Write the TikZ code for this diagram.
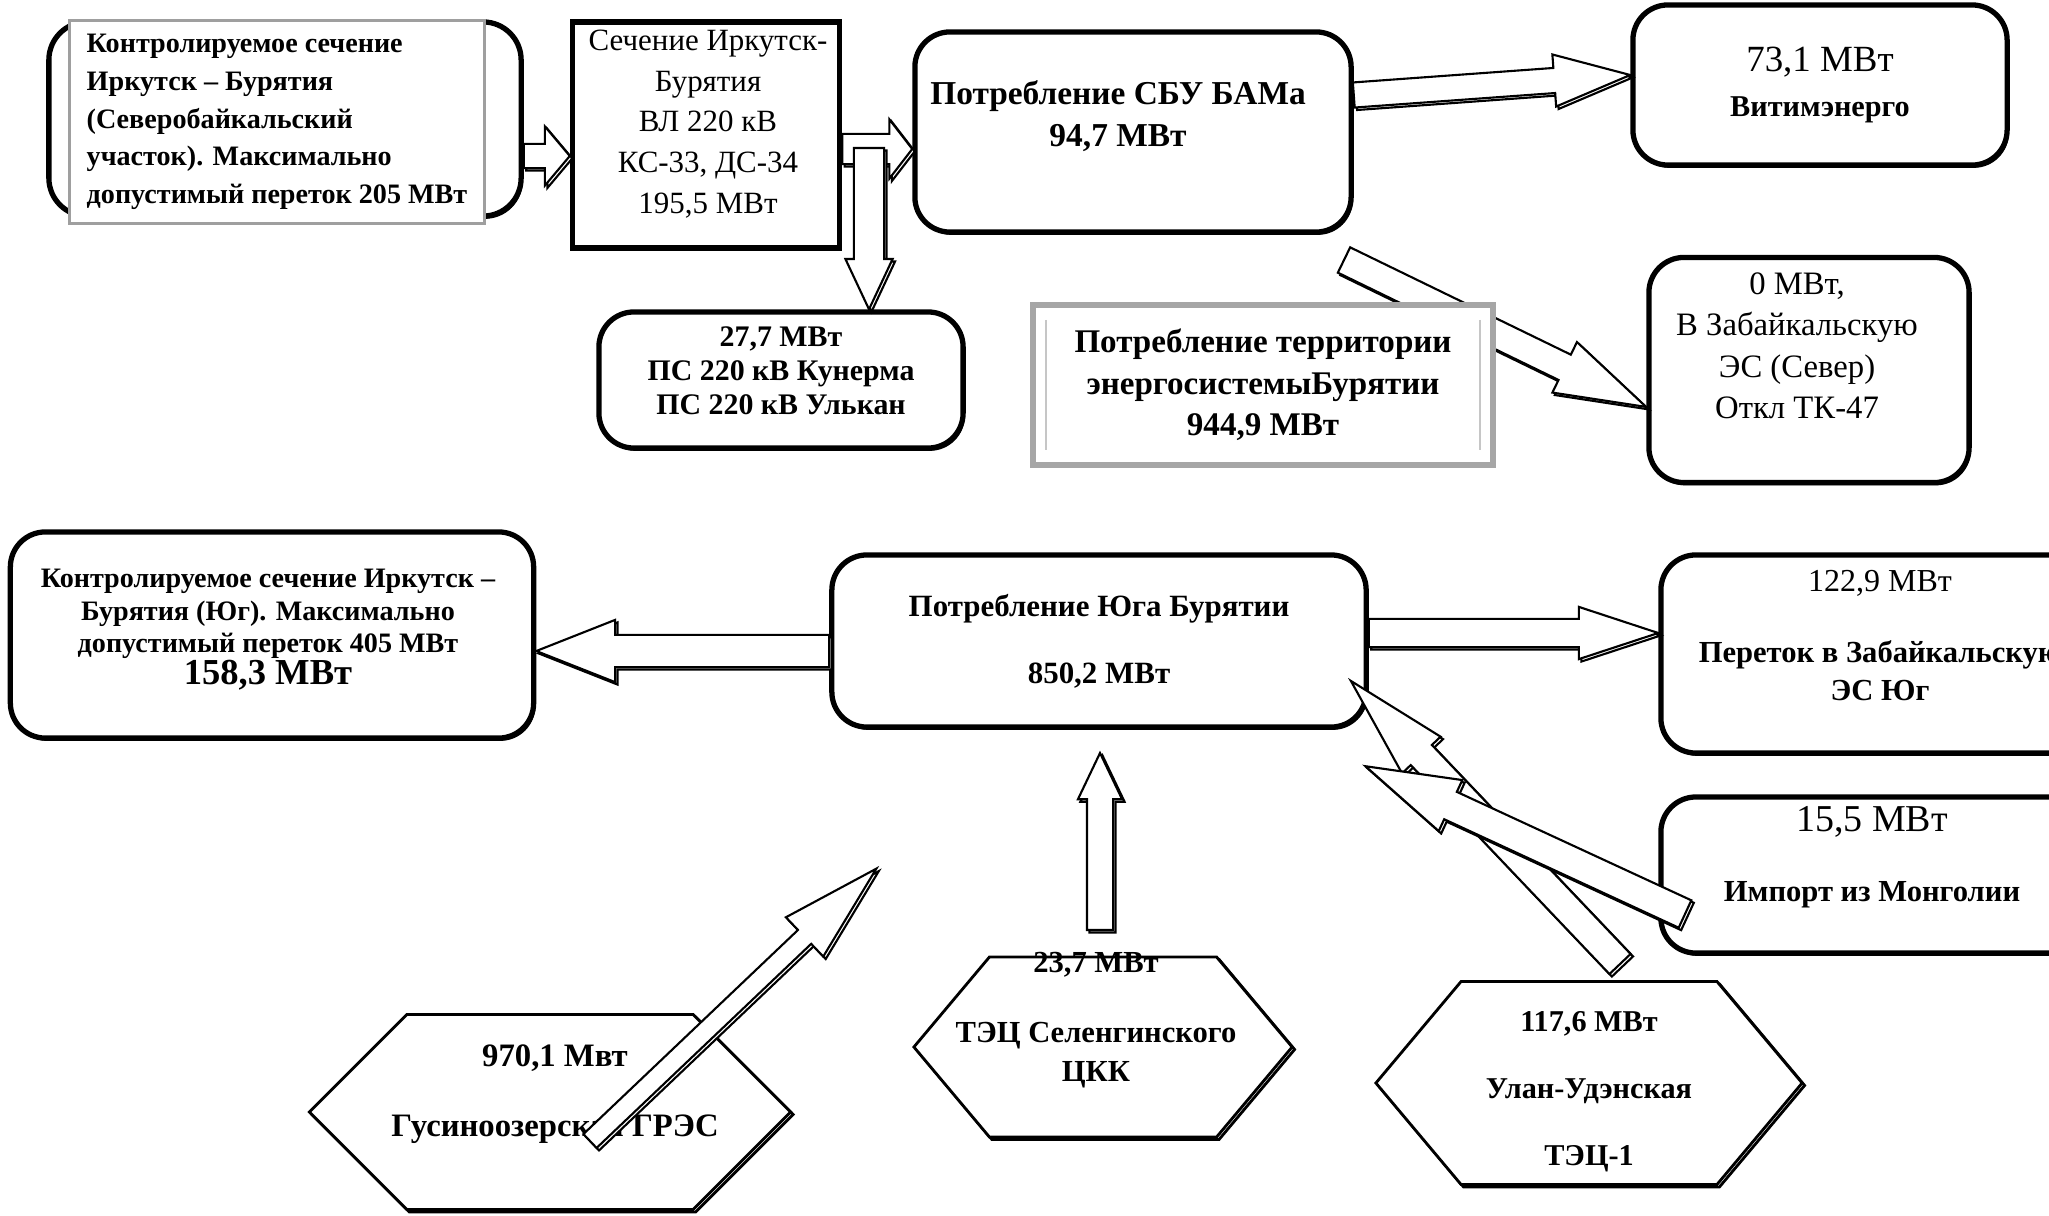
\documentclass[tikz,border=0pt]{standalone}
\usepackage{fontspec}
\setmainfont{Liberation Serif}
\usetikzlibrary{shapes.arrows, shapes.symbols, shadows, calc}
\tikzstyle{roundbox} = [rectangle, rounded corners=0.35cm, draw=black, line width=1.5pt, fill=white, align=center, drop shadow={shadow xshift=0.5pt, shadow yshift=-0.8pt, fill=black, opacity=1}]
\tikzstyle{plainbox} = [rectangle, draw=black, line width=1.5pt, fill=white, align=center, drop shadow={shadow xshift=0.5pt, shadow yshift=-0.8pt, fill=black, opacity=1}]
\tikzstyle{graybox} = [rectangle, draw=gray!75, line width=0.9pt, fill=white]
\tikzstyle{hexbox} = [signal, signal to=east and west, draw=black, line width=0.8pt, fill=white, align=center, copy shadow={shadow xshift=0.7pt, shadow yshift=-0.7pt, draw=black, fill=white}]
\tikzstyle{boldtext} = [align=center, font=\fontsize{8.7pt}{11pt}\selectfont\bfseries]
\tikzstyle{normtext} = [align=center, font=\fontsize{9.3pt}{11.4pt}\selectfont]
\newcommand\ppbb{path picture bounding box}
\tikzset{
	flowarrow/.style = {single arrow, draw=black, line width=0.6pt, fill=white,
		inner xsep=0pt, outer sep=0pt,
		copy shadow={shadow xshift=0.7pt, shadow yshift=-0.7pt, draw=black, fill=white},
	},
	framebox/.style = {rectangle, draw=gray!70, line width=1.6pt, fill=white,
		path picture={\draw [gray!45, line width=0.5pt]
			([xshift=0.13cm, yshift=-0.15cm] \ppbb.north west) -- ([xshift=0.13cm, yshift=0.15cm] \ppbb.south west)
			([xshift=-0.13cm, yshift=-0.15cm] \ppbb.north east) -- ([xshift=-0.13cm, yshift=0.15cm] \ppbb.south east);
		},% end of path picture
	}
}
% block arrow: from, to, shaft width, head width, head length (in px)
\newcommand\bigflow[5]{%
	\path let \p1=(#1), \p2=(#2), \n1={atan2(\y2-\y1,\x2-\x1)}, \n2={veclen(\x2-\x1,\y2-\y1)} in
		node[flowarrow, anchor=tail, rotate=\n1, minimum height=\n2,
			inner ysep=#3*0.005cm, single arrow head extend=(#4-#3)*0.005cm,
			single arrow tip angle={2*atan(#4/(2*#5))}] at (\p1) {};%
}

\begin{document}
\begin{tikzpicture}[x=0.01cm, y=-0.01cm]
\useasboundingbox (0,0) rectangle (2049,1215);
\clip (0,0) rectangle (2049,1215);

% Placement of nodes
\node (ctrlNorthFrame) [roundbox, rounded corners=0.38cm, minimum width=4.72cm, minimum height=1.94cm] at (285,119) {};
\node (ctrlNorth) [graybox, minimum width=4.15cm, minimum height=2.03cm, align=left, font=\fontsize{8pt}{10.7pt}\selectfont\bfseries] at (277,122) {Контролируемое сечение\\Иркутск – Бурятия\\(Северобайкальский\\участок). Максимально\\допустимый переток 205 МВт};
\node (secIrk) [plainbox, minimum width=2.67cm, minimum height=2.26cm] at (706,135) {};
\node (secIrkText) [align=center, font=\fontsize{8.8pt}{11.6pt}\selectfont] at (708,124) {Сечение Иркутск-\\Бурятия\\ВЛ 220 кВ\\КС-33, ДС-34\\195,5 МВт};
\node (bamCons) [roundbox, minimum width=4.36cm, minimum height=2cm] at (1133,132) {};
\node (bamText) [boldtext, font=\fontsize{9.5pt}{12pt}\selectfont\bfseries] at (1118,116) {Потребление СБУ БАМа\\94,7 МВт};
\node (vitim) [roundbox, minimum width=3.74cm, minimum height=1.6cm] at (1820,85) {{\fontsize{10.5pt}{12pt}\selectfont 73,1 МВт}\\[1pt]{\fontsize{8.6pt}{11pt}\selectfont\bfseries Витимэнерго}};
\node (zabNorth) [roundbox, minimum width=3.2cm, minimum height=2.25cm] at (1809,370) {};
\node (zabNorthText) [normtext, font=\fontsize{9.3pt}{11.8pt}\selectfont] at (1797,346) {0 МВт,\\В Забайкальскую\\ЭС (Север)\\Откл ТК-47};
\node (kunerma) [roundbox, minimum width=3.64cm, minimum height=1.36cm] at (781,380) {};
\node (kunermaText) [boldtext, font=\fontsize{8.5pt}{9.6pt}\selectfont\bfseries] at (781,371) {27,7 МВт\\ПС 220 кВ Кунерма\\ПС 220 кВ Улькан};

\node (ctrlSouth) [roundbox, minimum width=5.23cm, minimum height=2.06cm] at (272,635) {};
\node (ctrlSouthText) [boldtext, font=\fontsize{8pt}{9.2pt}\selectfont\bfseries] at (268,630) {Контролируемое сечение Иркутск –\\Бурятия (Юг). Максимально\\допустимый переток 405 МВт\\{\fontsize{10.4pt}{12pt}\selectfont 158,3 МВт}};
\node (southCons) [roundbox, minimum width=5.34cm, minimum height=1.72cm, font=\fontsize{8.8pt}{11pt}\selectfont\bfseries] at (1099,641) {Потребление Юга Бурятии\\[8pt]850,2 МВт};
\node (zabSouth) [roundbox, minimum width=4.38cm, minimum height=1.98cm] at (1880,654) {};
\node (zabSouthText) [boldtext] at (1880,636) {{\fontsize{9.1pt}{11pt}\selectfont\mdseries 122,9 МВт}\\[9pt]Переток в Забайкальскую\\ЭС Юг};
\node (mongolia) [roundbox, minimum width=4.22cm, minimum height=1.56cm] at (1872,875) {};
\node (mongoliaText) [boldtext] at (1872,857) {{\fontsize{10.8pt}{12pt}\selectfont\mdseries 15,5 МВт}\\[9pt]Импорт из Монголии};

\node (gusino) [hexbox, minimum width=4.81cm, minimum height=1.95cm, signal pointer angle=90] at (550,1112) {};
\node (gusinoText) [boldtext, font=\fontsize{9.3pt}{11pt}\selectfont\bfseries] at (555,1094) {970,1 Мвт\\[9pt]Гусиноозерская ГРЭС};
\node (selenga) [hexbox, minimum width=3.78cm, minimum height=1.8cm, signal pointer angle=100] at (1103,1047) {};
\node (selengaText) [boldtext] at (1096,1020) {23,7 МВт\\[9pt]ТЭЦ Селенгинского\\ЦКК};
\node (ulanUde) [hexbox, minimum width=4.26cm, minimum height=2.03cm, signal pointer angle=100] at (1589,1083) {};
\node (ulanUdeText) [boldtext, font=\fontsize{8.6pt}{10.5pt}\selectfont\bfseries] at (1589,1092) {117,6 МВт\\[8.6pt]Улан-Удэнская\\[8.6pt]ТЭЦ-1};

% Free ends of arrows
\coordinate (bamBranch) at (869,148);
\coordinate (bamSouthEast) at (1344,260);
\coordinate (gusinoOut) at (590,1141);
\coordinate (gusinoTip) at (877,868);
\coordinate (selengaOut) at (1100,930);
\coordinate (selengaTip) at (1100,753);
\coordinate (ulanOut) at (1620,964);
\coordinate (ulanTip) at (1350,680);
\coordinate (mongoliaOut) at (1685,914);
\coordinate (mongoliaTip) at (1365,766);

% Placement of edges
\bigflow{ctrlNorthFrame.east |- 0,156}{secIrk.west |- 0,156}{22}{57}{24}
\bigflow{secIrk.east |- 0,149}{bamCons.west |- 0,149}{28}{57}{22}
\bigflow{bamBranch}{bamBranch |- kunerma.north}{28}{45}{48}
\bigflow{bamCons.east |- 0,95}{vitim.west |- 0,75}{23}{50}{73}
\bigflow{bamSouthEast}{zabNorth.west |- 0,407}{26}{54}{87}
\bigflow{southCons.west |- 0,651}{ctrlSouth.east |- 0,651}{30}{60}{76}
\bigflow{southCons.east |- 0,633}{zabSouth.west |- 0,633}{26}{50}{76}
\bigflow{gusinoOut}{gusinoTip}{17}{52}{95}
\bigflow{selengaOut}{selengaTip}{24}{42}{44}
\bigflow{ulanOut}{ulanTip}{27}{51}{98}
\bigflow{mongoliaOut}{mongoliaTip}{28}{54}{90}

% Total consumption, over the arrow
\node (buryatTotal) [framebox, minimum width=4.6cm, minimum height=1.6cm, align=center, font=\fontsize{9.4pt}{11.8pt}\selectfont\bfseries] at (1263,385) {Потребление территории\\энергосистемыБурятии\\944,9 МВт};

\end{tikzpicture}
\end{document}
